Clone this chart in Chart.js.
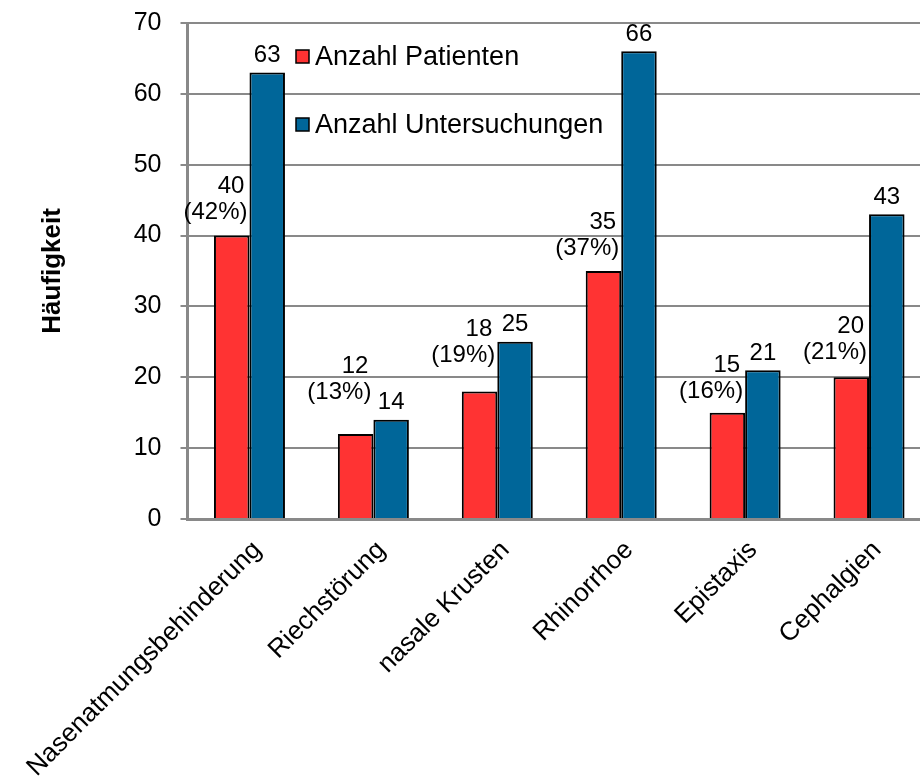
<!DOCTYPE html>
<html>
<head>
<meta charset="utf-8">
<script src="https://cdn.jsdelivr.net/npm/chart.js@4/dist/chart.umd.min.js"></script>
<style>
    html, body { margin: 0; padding: 0; background: #fff; overflow: hidden; }
    #wrap { width: 931px; height: 781px; }
</style>
</head>
<body>
<div id="wrap"><canvas id="chart" width="931" height="781"></canvas></div>
<script>
// Symptoms and counts.
const categories = ['Nasenatmungsbehinderung', 'Riechstörung', 'nasale Krusten', 'Rhinorrhoe', 'Epistaxis', 'Cephalgien'];
const patients = [40, 12, 18, 35, 15, 20];
const patientPercent = [42, 13, 19, 37, 16, 21];
const examinations = [63, 14, 25, 66, 21, 43];
const yTicks = [0, 10, 20, 30, 40, 50, 60, 70];

// How far above its bar each two-line patient label sits (px), as placed in the original.
const patientLabelLift = [23, 42, 36, 23, 21, 25];

const RED = '#ff3333';
const BLUE = '#006699';
const GRID = '#898989';
const FONT = "'Liberation Sans', Arial, sans-serif";

const labelsPlugin = {
    id: 'barLabels',
    afterDatasetsDraw(chart) {
        const ctx = chart.ctx;
        ctx.save();
        ctx.fillStyle = '#000';
        ctx.font = '24px ' + FONT;
        ctx.textBaseline = 'middle';

        chart.getDatasetMeta(0).data.forEach(function (bar, i) {
            const right = bar.x + bar.width / 2 - 2;
            const cy = bar.y - patientLabelLift[i];
            ctx.textAlign = 'right';
            ctx.fillText('(' + patientPercent[i] + '%)', right, cy);
            ctx.fillText(String(patients[i]), right - 3, cy - 26);
        });

        chart.getDatasetMeta(1).data.forEach(function (bar, i) {
            ctx.textAlign = 'center';
            ctx.fillText(String(examinations[i]), bar.x, bar.y - 17);
        });

        // Legend sitting inside the plot area.
        const items = [
            { text: 'Anzahl Patienten', color: RED, y: 57 },
            { text: 'Anzahl Untersuchungen', color: BLUE, y: 125 }
        ];
        ctx.font = '27px ' + FONT;
        ctx.textAlign = 'left';
        items.forEach(function (it) {
            ctx.fillStyle = it.color;
            ctx.fillRect(296, it.y - 7, 13, 13);
            ctx.strokeStyle = '#000';
            ctx.lineWidth = 1.5;
            ctx.strokeRect(296, it.y - 7, 13, 13);
            ctx.fillStyle = '#000';
            ctx.fillText(it.text, 315, it.y + 1);
        });
        ctx.restore();
    }
};

new Chart(document.getElementById('chart').getContext('2d'), {
    type: 'bar',
    data: {
        labels: categories,
        datasets: [
            { label: 'Anzahl Patienten', data: patients, backgroundColor: RED, borderColor: '#000', borderWidth: 2, borderSkipped: 'bottom' },
            { label: 'Anzahl Untersuchungen', data: examinations, backgroundColor: BLUE, borderColor: '#000', borderWidth: 2, borderSkipped: 'bottom' }
        ]
    },
    options: {
        responsive: false,
        animation: false,
        devicePixelRatio: 1,
        layout: { padding: { top: 23, left: 0, right: 0, bottom: 0 } },
        datasets: { bar: { categoryPercentage: 0.573, barPercentage: 1.0 } },
        plugins: { legend: { display: false }, tooltip: { enabled: false } },
        scales: {
            x: {
                grid: { display: false },
                border: { color: GRID, width: 3 },
                ticks: {
                    color: '#000',
                    font: { family: FONT, size: 26 },
                    minRotation: 45,
                    maxRotation: 45,
                    padding: 8,
                    labelOffset: 8
                },
                afterFit: function (s) { s.height = 262; }
            },
            y: {
                min: 0,
                max: 70,
                afterBuildTicks: function (s) { s.ticks = yTicks.map(v => ({ value: v })); },
                grid: { color: GRID, lineWidth: 2, tickLength: 7 },
                border: { color: GRID, width: 3 },
                ticks: { color: '#000', font: { family: FONT, size: 25 }, padding: 19 },
                title: {
                    display: true,
                    text: 'Häufigkeit',
                    color: '#000',
                    font: { family: FONT, size: 26, weight: 'bold' },
                    padding: { top: 37, bottom: 0 }
                },
                afterFit: function (s) {
                    s.width = 187;
                    s.paddingTop = 0;
                    s.paddingBottom = 0;
                }
            }
        }
    },
    plugins: [labelsPlugin]
});
</script>
</body>
</html>
